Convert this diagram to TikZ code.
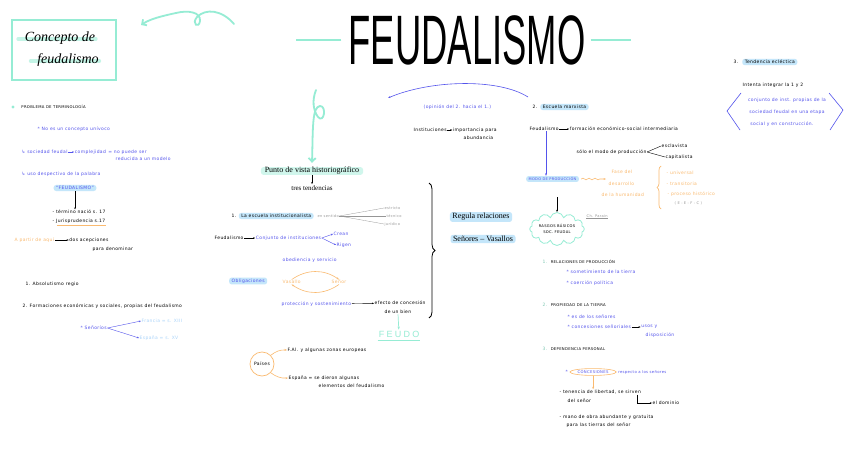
\documentclass[tikz,border=0pt]{standalone}
\usepackage{fontspec}
\setmainfont{DejaVu Sans}
\newfontfamily\notefont[LetterSpace=8]{DejaVu Sans}
\newfontfamily\titlefont{Liberation Sans}
\newfontfamily\handfont{Liberation Serif}
\usetikzlibrary{arrows.meta,shapes.geometric,shapes.symbols,positioning,backgrounds,decorations.pathreplacing,decorations.pathmorphing}
\definecolor{Mint}{RGB}{150,236,212}
\definecolor{PenBlue}{RGB}{84,84,236}
\definecolor{HlBlue}{RGB}{196,230,250}
\definecolor{Peach}{RGB}{250,186,112}
\definecolor{GreyInk}{RGB}{150,150,150}
\definecolor{SkyInk}{RGB}{170,212,250}

\begin{document}
\begin{tikzpicture}[x=1pt,y=-1pt,
    txt/.style={font=\notefont\fontsize{4.5}{5.5}\selectfont,inner sep=0.5pt,anchor=west},
    btxt/.style={txt,text=PenBlue},
    otxt/.style={txt,text=Peach},
    gtxt/.style={txt,text=GreyInk,font=\notefont\fontsize{3.6}{4.5}\selectfont},
    caps/.style={txt,font=\notefont\fontsize{3.8}{4.5}\selectfont},
    num/.style={txt,text=Mint!85!black},
    hl/.style={fill=HlBlue,rounded corners=2.5pt,inner xsep=2.5pt,inner ysep=1.3pt},
    mhl/.style={fill=Mint!45,rounded corners=3pt,inner xsep=4pt,inner ysep=0.3pt},
    big/.style={font=\handfont\fontsize{8}{9}\selectfont,inner sep=0.8pt},
    arr/.style={-{Stealth[scale=0.45]},line width=0.4pt},
    barr/.style={arr,PenBlue},
    oarr/.style={arr,Peach,line width=0.6pt},
    marr/.style={-{Straight Barb[scale=0.7]},Mint,line width=1.8pt,line cap=round}
  ]
  \useasboundingbox (0,0) rectangle (848,468);

  % heading
  \node[draw=Mint,line width=1.3pt,minimum width=104,minimum height=60,inner sep=0] (cbox) at (64,50) {};
  \node[font=\handfont\itshape\fontsize{14}{14}\selectfont,inner sep=0.5pt] (ctit1) at (60,38) {Concepto de};
  \node[font=\handfont\itshape\fontsize{14}{14}\selectfont,inner sep=0.5pt] (ctit2) at (68,60) {feudalismo};
  \node[font=\titlefont\fontsize{70}{70}\selectfont,inner sep=0] (title) at (467,40) {\scalebox{0.52}[1]{FEUDALISMO}};
  \draw[Mint,line width=2.4pt] ([xshift=-7pt]title.west) -- ++(-45,0);
  \draw[Mint,line width=2.4pt] ([xshift=5pt]title.east) -- ++(40,0);
  \coordinate (lpA) at (234,24);
  \coordinate (lpB) at (141,25);
  \draw[marr] (lpA) .. controls (222,10) and (206,8) .. (197,17)
     .. controls (191,24) and (199,29) .. (200,21)
     .. controls (201,12) and (188,10) .. (176,13)
     .. controls (162,16) and (150,19) .. (lpB);

  % left column
  \node[circle,fill=Mint,inner sep=1.1pt] (dot) at (13,107) {};
  \node[caps,right=6pt of dot] (prob) {PROBLEMA DE TERMINOLOGÍA};
  \node[btxt] (nouni) at (37,129) {* No es un concepto unívoco};
  \node[btxt] (socf) at (21,152) {↳ sociedad feudal};
  \node[btxt,right=6pt of socf] (compl) {complejidad};
  \node[btxt,right=1pt of compl] (nored) {= no puede ser};
  \node[btxt] (nored2) at (115,159) {reducida a un modelo};
  \draw[barr] (socf) -- (compl);
  \node[btxt] (desp) at (21,174) {↳ uso despectivo de la palabra};
  \node[txt,hl,text=PenBlue,anchor=center] (fdl) at (75,188) {“FEUDALISMO”};
  \node[txt] (term) at (52,212) {- término nació s. 17};
  \node[txt] (juris) at (52,221) {- Jurisprudencia s.17};
  \draw[arr] (fdl) -- (fdl |- term.north);
  \draw[Peach,line width=0.6pt] ([xshift=5pt,yshift=-1pt]juris.south west) -- ([yshift=-1pt]juris.south east);
  \node[otxt] (apartir) at (14,240) {A partir de aquí};
  \node[txt,right=14pt of apartir] (dosac) {dos acepciones};
  \node[txt] (paraden) at (92,249) {para denominar};
  \draw[arr] (apartir) -- (dosac);
  \node[txt] (abso) at (25,284) {1. Absolutismo regio};
  \node[txt] (forma) at (22,306) {2. Formaciones económicas y sociales, propias del feudalismo};
  \node[btxt] (senorios) at (80,328) {* Señoríos};
  \node[txt,text=SkyInk] (fran) at (141,321) {Francia = s. XIII};
  \node[txt,text=SkyInk] (espa) at (139,338) {España = s. XV};
  \draw[barr] (senorios.east) -- (fran.west);
  \draw[barr] (senorios.east) -- (espa.west);

  % centre column
  \coordinate (crA) at (316,90);
  \node[big,mhl] (punto) at (312,171) {Punto de vista historiográfico};
  \draw[marr] (crA) .. controls (312,100) and (313,110) .. (318,117)
     .. controls (324,124) and (327,106) .. (320,106)
     .. controls (312,107) and (313,128) .. ([yshift=4pt]punto.north);
  \node[big,font=\handfont\fontsize{7}{8}\selectfont,below=9pt of punto] (tres) {tres tendencias};
  \draw[arr] (punto) -- (tres);
  \node[txt] (uno) at (231,216) {1.};
  \node[txt,hl,right=1.5pt of uno] (esc) {La escuela institucionalista};
  \node[gtxt,right=3pt of esc] (sent) {en sentido};
  \node[gtxt] (estr) at (384,208) {estricto};
  \node[gtxt] (tecn) at (386,216) {técnico};
  \node[gtxt] (jurid) at (384,224) {jurídico};
  \foreach \k in {estr,tecn,jurid} \draw[GreyInk,line width=0.3pt] (sent.east) -- (\k.west);
  \node[txt] (feud) at (214,238) {Feudalismo};
  \node[btxt,right=11pt of feud] (conj) {Conjunto de instituciones};
  \node[btxt] (crean) at (333,234) {Crean};
  \node[btxt] (rigen) at (336,245) {Rigen};
  \draw[arr] (feud) -- (conj);
  \draw[barr] (conj.east) -- (crean.west);
  \draw[barr] (conj.east) -- (rigen.west);
  \node[btxt] (obed) at (282,260) {obediencia y servicio};
  \node[txt,hl,text=PenBlue] (oblig) at (229,281) {Obligaciones};
  \node[otxt] (vas) at (282,282) {Vasallo};
  \node[otxt] (senor) at (331,282) {Señor};
  \draw[oarr] (vas.north) to[bend left=35] (senor.north);
  \draw[oarr] (senor.south) to[bend left=35] (vas.south);
  \node[btxt] (prot) at (281,304) {protección y sostenimiento};
  \node[txt] (efec) at (374,303) {efecto de concesión};
  \node[txt] (bien) at (384,312) {de un bien};
  \draw[arr] (prot) -- (efec);
  \node[font=\titlefont\fontsize{9}{9}\selectfont\addfontfeature{LetterSpace=25},text=Mint,inner sep=1pt] (feudo) at (399,334) {FEUDO};
  \draw[-{Stealth[scale=0.5]},Mint,line width=0.7pt] (bien) -- (feudo);
  \draw[Mint,line width=0.8pt] ([yshift=-2pt]feudo.south west) -- ([yshift=-2pt]feudo.south east);
  \node[circle,draw=Peach,line width=0.7pt,minimum size=24,inner sep=0,font=\notefont\fontsize{4.5}{5}\selectfont] (paises) at (262,364) {Países};
  \node[txt] (fal) at (287,350) {F.Al. y algunas zonas europeas};
  \node[txt] (espd) at (288,378) {España = se dieron algunas};
  \node[txt] (espd2) at (318,386) {elementos del feudalismo};
  \draw[oarr] (paises.north east) to[bend left=20] (fal.west);
  \draw[oarr] (paises.south east) to[bend right=20] (espd.west);

  % middle
  \coordinate (arcS) at (528,97);
  \coordinate (arcE) at (388,98);
  \draw[barr,line width=0.6pt] (arcS) .. controls (498,78) and (430,80) .. (arcE);
  \node[btxt] (opin) at (423,107) {(opinión del 2. hacia el 1.)};
  \node[txt] (inst) at (413,130) {Instituciones};
  \node[txt,right=5pt of inst] (impo) {importancia para};
  \node[txt] (abun) at (463,138) {abundancia};
  \draw[arr] (inst) -- (impo);
  \coordinate (brTop) at (429,183);
  \coordinate (brBot) at (429,318);
  \draw[decorate,decoration={brace,amplitude=6pt},line width=0.8pt] (brTop) -- (brBot);
  \node[big,hl] (regula) at (481,217) {Regula relaciones};
  \node[big,hl] (senvas) at (483,239) {Señores – Vasallos};

  % marxist school
  \node[txt] (dos) at (532,107) {2.};
  \node[txt,hl,right=2pt of dos] (marx) {Escuela marxista};
  \node[txt] (fmarx) at (529,129) {Feudalismo};
  \node[txt,right=10pt of fmarx] (formac) {formación económico-social intermediaria};
  \draw[arr] (fmarx) -- (formac);
  \node[txt] (solo) at (576,152) {sólo el modo de producción};
  \node[txt] (escl) at (661,146) {esclavista};
  \node[txt] (capi) at (665,157) {capitalista};
  \draw[line width=0.4pt] (solo.east) -- (escl.west);
  \draw[line width=0.4pt] (solo.east) -- (capi.west);
  \node[txt,hl,font=\notefont\fontsize{3.6}{4.5}\selectfont,text=PenBlue] (modo) at (526,179) {MODO DE PRODUCCIÓN};
  \draw[barr,line width=0.6pt] (fmarx.south -| 546,0) -- (546,0 |- modo.north);
  \node[otxt] (fase) at (611,172) {Fase del};
  \node[otxt] (desa) at (608,184) {desarrollo};
  \node[otxt] (huma) at (601,195) {de la humanidad};
  \draw[oarr,decorate,decoration={snake,amplitude=0.8pt,segment length=6pt,post length=4pt}] ([xshift=2pt]modo.east) -- ([xshift=-2pt]modo.east -| desa.west);
  \coordinate (obBot) at (661,209);
  \coordinate (obTop) at (661,166);
  \draw[Peach,decorate,decoration={brace,amplitude=4pt},line width=0.7pt] (obBot) -- (obTop);
  \node[otxt] (univ) at (666,173) {- universal};
  \node[otxt] (trans) at (666,184) {- transitoria};
  \node[otxt] (proc) at (667,194) {- proceso histórico};
  \node[gtxt] (etap) at (674,203) {( E - E - F - C )};
  \node[cloud,cloud puffs=12,aspect=2.2,draw=Mint,line width=0.8pt,inner sep=0pt,minimum width=50,minimum height=28,
        align=center,font=\notefont\fontsize{3.7}{6}\selectfont] (rasgos) at (557,229) {RASGOS BÁSICOS\\SOC. FEUDAL};
  \draw[arr,line width=0.5pt,shorten <=15pt] (modo.south -| rasgos.north) -- (rasgos.north);
  \node[gtxt] (parain) at (586,216) {Ch. Parain};
  \draw[GreyInk,line width=0.3pt] (parain.south west) -- (parain.south east);

  \node[num] (r1) at (542,262) {1.};
  \node[caps,right=2pt of r1] (relac) {RELACIONES DE PRODUCCIÓN};
  \node[btxt] (somet) at (566,272) {* sometimiento de la tierra};
  \node[btxt] (coerc) at (566,283) {* coerción política};
  \node[num] (r2) at (542,305) {2.};
  \node[caps,right=2pt of r2] (propi) {PROPIEDAD DE LA TIERRA};
  \node[btxt] (esdel) at (567,317) {* es de los señores};
  \node[btxt] (conse) at (567,327) {* concesiones señoriales};
  \node[btxt,right=9pt of conse] (usos) {usos y};
  \node[btxt] (dispo) at (645,335) {disposición};
  \draw[arr] (conse) -- (usos);
  \node[num] (r3) at (542,349) {3.};
  \node[caps,right=2pt of r3] (depen) {DEPENDENCIA PERSONAL};
  \node[btxt] (ast) at (565,372) {*};
  \node[ellipse,draw=Peach,line width=0.6pt,inner sep=1pt,text=PenBlue,font=\notefont\fontsize{3.8}{4.5}\selectfont,right=1pt of ast] (conc) {CONCESIONES};
  \node[btxt,right=1pt of conc,font=\notefont\fontsize{3.8}{4.5}\selectfont] (resp) {respecto a los señores};
  \node[txt] (tene) at (559,392) {- tenencia de libertad, se sirven};
  \node[txt] (tene2) at (567,401) {del señor};
  \node[txt] (domi) at (652,403) {el dominio};
  \draw[oarr] (conc.south) -- (conc.south |- tene.north);
  \draw[arr] ([xshift=-4pt]tene.south east) |- (domi.west);
  \node[txt] (mano) at (559,417) {- mano de obra abundante y gratuita};
  \node[txt] (mano2) at (566,425) {para las tierras del señor};

  % eclectic
  \node[txt] (tresn) at (733,62) {3.};
  \node[txt,hl,right=3pt of tresn] (ecle) {Tendencia ecléctica};
  \node[txt] (integ) at (742,85) {Intenta integrar la 1 y 2};
  \node[btxt,anchor=center] (ec1) at (787,100) {conjunto de inst. propias de la};
  \node[btxt,anchor=center] (ec2) at (787,112) {sociedad feudal en una etapa};
  \node[btxt,anchor=center] (ec3) at (782,124) {social y en construcción.};
  \coordinate (lbA) at (741,93);
  \coordinate (rbA) at (829,93);
  \draw[PenBlue,line width=0.6pt] (lbA) -- (727,111) -- (740,130);
  \draw[PenBlue,line width=0.6pt] (rbA) -- (843,110) -- (830,130);

  \begin{scope}[on background layer]
    \fill[white] (0,0) rectangle (848,468);
    \draw[Mint!55,line width=3.5pt,line cap=round] ([xshift=-6pt,yshift=2.5pt]ctit1.base west) -- ([yshift=2.5pt]ctit1.base east);
    \draw[Mint!55,line width=3.5pt,line cap=round] ([xshift=-6pt,yshift=2.5pt]ctit2.base west) -- ([yshift=2.5pt]ctit2.base east);
  \end{scope}
\end{tikzpicture}
\end{document}
